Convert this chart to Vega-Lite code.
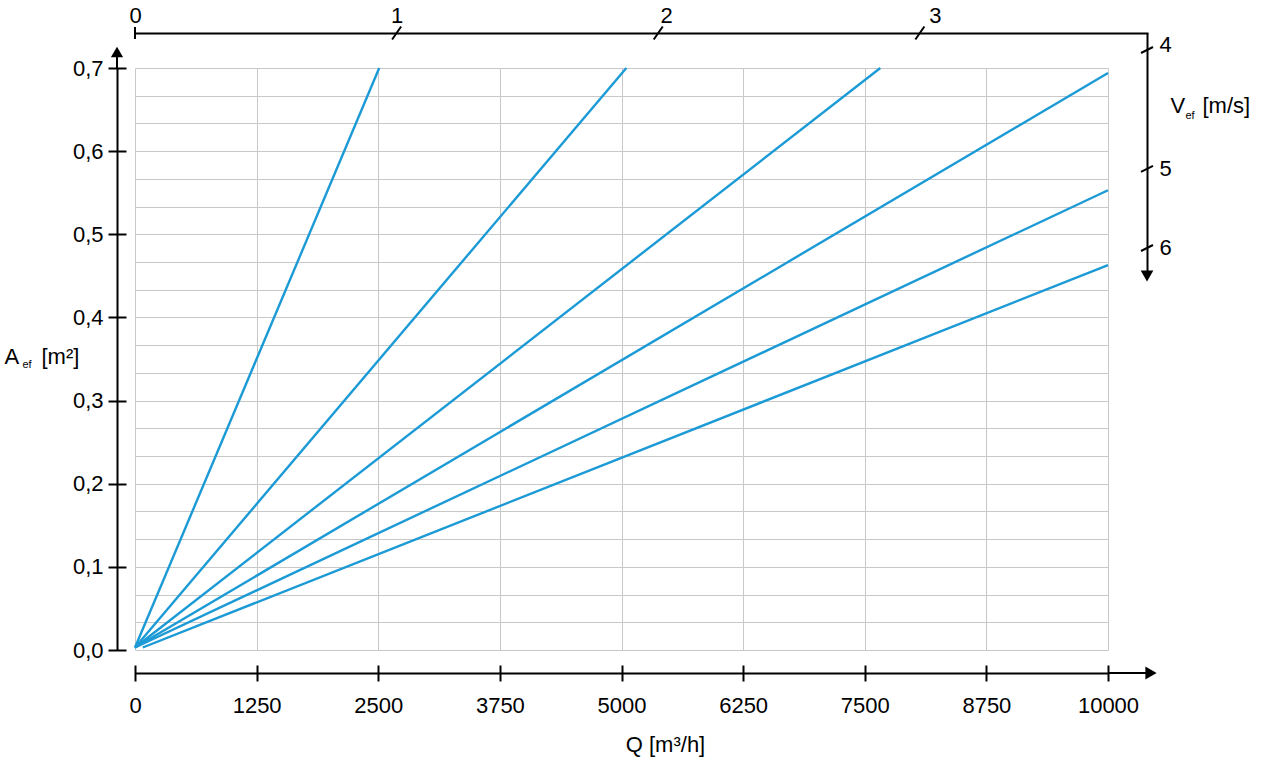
{
  "$schema": "https://vega.github.io/schema/vega-lite/v6.json",
  "width": 973,
  "height": 582,
  "autosize": {"type": "none"},
  "padding": {"left": 135, "top": 68, "right": 153, "bottom": 110},
  "background": "white",
  "config": {
    "view": {"stroke": null},
    "font": "Liberation Sans",
    "axis": {
      "labelFont": "Liberation Sans",
      "titleFont": "Liberation Sans",
      "labelColor": "black",
      "titleColor": "black",
      "labelFontSize": 22,
      "titleFontSize": 22,
      "titleFontWeight": "normal",
      "domainColor": "black",
      "tickColor": "black",
      "grid": false,
      "labelFlush": false
    }
  },
  "datasets": {
    "curves": [
      {"V": 1, "Q": 0, "A": 0.003}, {"V": 1, "Q": 2510, "A": 0.7},
      {"V": 2, "Q": 0, "A": 0.003}, {"V": 2, "Q": 5050, "A": 0.7},
      {"V": 3, "Q": 0, "A": 0.003}, {"V": 3, "Q": 7660, "A": 0.7},
      {"V": 4, "Q": 0, "A": 0.003}, {"V": 4, "Q": 10000, "A": 0.694},
      {"V": 5, "Q": 0, "A": 0.003}, {"V": 5, "Q": 10000, "A": 0.553},
      {"V": 6, "Q": 80, "A": 0.003}, {"V": 6, "Q": 10000, "A": 0.463}
    ],
    "top": [{"V": 0}, {"V": 1}, {"V": 2}, {"V": 3}],
    "right": [{"V": 4}, {"V": 5}, {"V": 6}],
    "one": [{"k": 1}]
  },
  "resolve": {
    "scale": {"x": "independent", "y": "independent"},
    "axis": {"x": "independent", "y": "independent"}
  },
  "layer": [
    {
      "data": {"name": "curves"},
      "mark": {"type": "line", "strokeOpacity": 0},
      "encoding": {
        "x": {"field": "Q", "type": "quantitative",
          "scale": {"domain": [0, 10000], "nice": false, "zero": false},
          "axis": {"orient": "bottom", "grid": true, "gridColor": "#c8c8c8", "gridWidth": 1,
            "values": [0, 1250, 2500, 3750, 5000, 6250, 7500, 8750, 10000],
            "domain": false, "ticks": false, "labels": false, "title": null, "zindex": 0}},
        "y": {"field": "A", "type": "quantitative",
          "scale": {"domain": [0, 0.7], "nice": false, "zero": false},
          "axis": {"orient": "left", "grid": true, "gridColor": "#c8c8c8", "gridWidth": 1,
            "values": [0, 0.033333, 0.066667, 0.1, 0.133333, 0.166667, 0.2, 0.233333, 0.266667, 0.3, 0.333333, 0.366667, 0.4, 0.433333, 0.466667, 0.5, 0.533333, 0.566667, 0.6, 0.633333, 0.666667, 0.7],
            "domain": false, "ticks": false, "labels": false, "title": null, "zindex": 0}},
        "detail": {"field": "V", "type": "nominal"}
      }
    },
    {
      "data": {"name": "curves"},
      "mark": {"type": "line", "color": "#1b9ad6", "strokeWidth": 2.4},
      "encoding": {
        "x": {"field": "Q", "type": "quantitative",
          "scale": {"domain": [0, 10000], "nice": false, "zero": false},
          "axis": {"orient": "bottom", "offset": 23,
            "values": [0, 1250, 2500, 3750, 5000, 6250, 7500, 8750, 10000],
            "format": "d", "domain": true, "domainWidth": 2, "ticks": false, "labelPadding": 22,
            "title": "Q [m³/h]", "titleX": 530, "titleY": 78, "titleAlign": "center", "titleBaseline": "alphabetic"}},
        "y": {"field": "A", "type": "quantitative",
          "scale": {"domain": [0, 0.7], "nice": false, "zero": false},
          "axis": {"orient": "left", "offset": 18,
            "values": [0, 0.1, 0.2, 0.3, 0.4, 0.5, 0.6, 0.7],
            "labelExpr": "replace(format(datum.value, '.1f'), '.', ',')",
            "domain": true, "domainWidth": 2, "ticks": false, "labelPadding": 14,
            "title": "A", "titleX": -113, "titleY": 295, "titleAngle": 0, "titleAlign": "left", "titleBaseline": "alphabetic"}},
        "detail": {"field": "V", "type": "nominal"}
      }
    },
    {
      "data": {"name": "curves"},
      "mark": {"type": "line", "strokeOpacity": 0},
      "encoding": {
        "x": {"field": "Q", "type": "quantitative",
          "scale": {"domain": [0, 10000], "nice": false, "zero": false},
          "axis": {"orient": "bottom", "offset": 15,
            "values": [0, 1250, 2500, 3750, 5000, 6250, 7500, 8750, 10000],
            "domain": false, "labels": false, "ticks": true, "tickSize": 16, "tickWidth": 2, "title": null}},
        "y": {"field": "A", "type": "quantitative",
          "scale": {"domain": [0, 0.7], "nice": false, "zero": false},
          "axis": {"orient": "left", "offset": 9,
            "values": [0, 0.1, 0.2, 0.3, 0.4, 0.5, 0.6, 0.7],
            "domain": false, "labels": false, "ticks": true, "tickSize": 18, "tickWidth": 2,
            "title": "ef", "titleFontSize": 11, "titleX": -104, "titleY": 299, "titleAngle": 0, "titleAlign": "left", "titleBaseline": "alphabetic"}},
        "detail": {"field": "V", "type": "nominal"}
      }
    },
    {
      "data": {"name": "curves"},
      "mark": {"type": "line", "strokeOpacity": 0},
      "encoding": {
        "x": {"field": "Q", "type": "quantitative",
          "scale": {"domain": [0, 10000], "nice": false, "zero": false}, "axis": null},
        "y": {"field": "A", "type": "quantitative",
          "scale": {"domain": [0, 0.7], "nice": false, "zero": false},
          "axis": {"orient": "left", "offset": 0, "domain": false, "labels": false, "ticks": false,
            "title": "[m²]", "titleX": -94, "titleY": 295, "titleAngle": 0, "titleAlign": "left", "titleBaseline": "alphabetic"}},
        "detail": {"field": "V", "type": "nominal"}
      }
    },
    {
      "data": {"name": "curves"},
      "mark": {"type": "line", "strokeOpacity": 0},
      "encoding": {
        "x": {"field": "Q", "type": "quantitative",
          "scale": {"domain": [0, 10000], "nice": false, "zero": false}, "axis": null},
        "y": {"field": "A", "type": "quantitative",
          "scale": {"domain": [0, 0.7], "nice": false, "zero": false},
          "axis": {"orient": "right", "offset": 39, "domain": false, "labels": false, "ticks": false,
            "title": "ef", "titleFontSize": 11, "titleX": 38, "titleY": 50, "titleAngle": 0, "titleAlign": "left", "titleBaseline": "alphabetic"}},
        "detail": {"field": "V", "type": "nominal"}
      }
    },
    {
      "data": {"name": "curves"},
      "mark": {"type": "line", "strokeOpacity": 0},
      "encoding": {
        "x": {"field": "Q", "type": "quantitative",
          "scale": {"domain": [0, 10000], "nice": false, "zero": false}, "axis": null},
        "y": {"field": "A", "type": "quantitative",
          "scale": {"domain": [0, 0.7], "nice": false, "zero": false},
          "axis": {"orient": "right", "offset": 39, "domain": false, "labels": false, "ticks": false,
            "title": "[m/s]", "titleX": 55, "titleY": 44, "titleAngle": 0, "titleAlign": "left", "titleBaseline": "alphabetic"}},
        "detail": {"field": "V", "type": "nominal"}
      }
    },
    {
      "data": {"name": "one"},
      "layer": [
        {
          "mark": {"type": "rule", "color": "black", "strokeWidth": 2, "xOffset": -18, "y2Offset": -12},
          "encoding": {
            "x": {"datum": 0, "type": "quantitative", "scale": {"domain": [0, 10000], "nice": false, "zero": false}, "axis": null},
            "y": {"datum": 0.7, "type": "quantitative", "scale": {"domain": [0, 0.7], "nice": false, "zero": false}, "axis": null},
            "y2": {"datum": 0.7}
          }
        },
        {
          "mark": {"type": "point", "shape": "triangle-up", "size": 150, "filled": true, "color": "black", "opacity": 1, "strokeWidth": 0, "xOffset": -18, "yOffset": -16},
          "encoding": {
            "x": {"datum": 0, "type": "quantitative"},
            "y": {"datum": 0.7, "type": "quantitative"}
          }
        },
        {
          "mark": {"type": "rule", "color": "black", "strokeWidth": 2, "yOffset": 23, "x2Offset": 38},
          "encoding": {
            "x": {"datum": 10000, "type": "quantitative"},
            "x2": {"datum": 10000},
            "y": {"datum": 0, "type": "quantitative"}
          }
        },
        {
          "mark": {"type": "point", "shape": "triangle-right", "size": 170, "filled": true, "color": "black", "opacity": 1, "strokeWidth": 0, "xOffset": 43, "yOffset": 23},
          "encoding": {
            "x": {"datum": 10000, "type": "quantitative"},
            "y": {"datum": 0, "type": "quantitative"}
          }
        }
      ]
    },
    {
      "data": {"name": "top"},
      "layer": [
        {
          "transform": [{"filter": "datum.V > 0"}],
          "mark": {"type": "rule", "color": "black", "strokeWidth": 2, "xOffset": -4.5, "x2Offset": 4.5, "yOffset": 6.5, "y2Offset": -6.5},
          "encoding": {
            "x": {"field": "V", "type": "quantitative",
              "scale": {"domain": [0, 3.872], "range": [0, 1013], "nice": false, "zero": false},
              "axis": {"orient": "top", "offset": 35, "values": [0, 1, 2, 3], "format": "d",
                "domain": true, "domainWidth": 2, "ticks": false, "labelPadding": 6, "title": null,
                "labelOffset": {"condition": [{"test": "datum.value == 2", "value": 8}, {"test": "datum.value == 3", "value": 15}], "value": 0}}},
            "x2": {"field": "V"},
            "y": {"datum": 0.7421, "type": "quantitative", "scale": {"domain": [0, 0.7], "nice": false, "zero": false}, "axis": null},
            "y2": {"datum": 0.7421}
          }
        },
        {
          "transform": [{"filter": "datum.V == 0"}],
          "mark": {"type": "rule", "color": "black", "strokeWidth": 2, "yOffset": 6, "y2Offset": -6},
          "encoding": {
            "x": {"field": "V", "type": "quantitative"},
            "y": {"datum": 0.7421, "type": "quantitative"},
            "y2": {"datum": 0.7421}
          }
        }
      ]
    },
    {
      "data": {"name": "right"},
      "layer": [
        {
          "mark": {"type": "rule", "color": "black", "strokeWidth": 2, "xOffset": -6, "x2Offset": 6, "yOffset": 3, "y2Offset": -3},
          "encoding": {
            "y": {"field": "V", "type": "quantitative",
              "scale": {"type": "pow", "exponent": -1, "domain": [3.8888, 6.4216], "range": [-35, 206], "nice": false, "zero": false},
              "axis": {"orient": "right", "offset": 39, "values": [4, 5, 6], "format": "d",
                "domain": true, "domainWidth": 2, "ticks": false, "labelPadding": 12,
                "labelOffset": {"condition": {"test": "datum.value == 4", "value": -5}, "value": 0},
                "title": "V", "titleX": 23, "titleY": 44, "titleAngle": 0, "titleAlign": "left", "titleBaseline": "alphabetic"}},
            "y2": {"field": "V"},
            "x": {"datum": 10401, "type": "quantitative", "scale": {"domain": [0, 10000], "nice": false, "zero": false}, "axis": null},
            "x2": {"datum": 10401}
          }
        },
        {
          "transform": [{"filter": "datum.V == 6"}],
          "mark": {"type": "point", "shape": "triangle-down", "size": 160, "filled": true, "color": "black", "opacity": 1, "strokeWidth": 0, "yOffset": 2},
          "encoding": {
            "y": {"datum": 6.4216, "type": "quantitative"},
            "x": {"datum": 10401, "type": "quantitative"}
          }
        }
      ]
    }
  ]
}
